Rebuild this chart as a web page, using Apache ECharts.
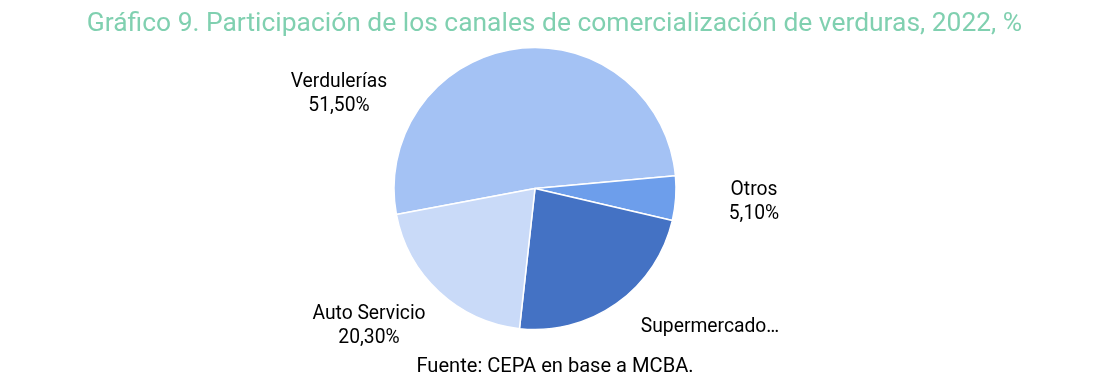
<!DOCTYPE html>
<html>
<head>
<meta charset="utf-8">
<script src="https://cdn.jsdelivr.net/npm/echarts@6/dist/echarts.min.js"></script>
<style>
html,body{margin:0;padding:0;background:#fff;}
#chart{width:1115px;height:382px;}
</style>
</head>
<body>
<div id="chart"></div>
<script>
var categories = ['Verdulerías', 'Otros', 'Supermercados', 'Auto Servicio'];
var values = [51.5, 5.1, 23.1, 20.3];
var labelTexts = ['Verdulerías\n51,50%', 'Otros\n5,10%', 'Supermercado…', 'Auto Servicio\n20,30%'];
var colors = ['#a4c2f4', '#6d9eeb', '#4472c4', '#c9daf8'];

// label anchor offsets from pie centre (px), Excel-like placement
var labelOffsets = [[-196, -94], [219, 13.5], [175, 139], [-166, 137.5]];

var chart = echarts.init(document.getElementById('chart'), null, {renderer: 'canvas'});
var cx = 535, cy = 188.5;
chart.setOption({
  animation: false,
  title: [{
    text: 'Gráfico 9. Participación de los canales de comercialización de verduras, 2022, %',
    left: 549.5,
    textAlign: 'center',
    top: 6,
    textStyle: {fontFamily: 'Roboto', fontSize: 26.4, fontWeight: 'normal', color: '#80d0b0'}
  }, {
    text: 'Fuente: CEPA en base a MCBA.',
    left: 550,
    textAlign: 'center',
    top: 352,
    textStyle: {fontFamily: 'Roboto', fontSize: 20.1, fontWeight: 'normal', color: '#000'}
  }],
  series: [{
    type: 'pie',
    center: [cx, cy],
    radius: [0, 141],
    startAngle: 190.6,
    clockwise: true,
    data: categories.map(function (c, i) {
      return {name: c, value: values[i], itemStyle: {color: colors[i]}};
    }),
    itemStyle: {borderColor: '#fff', borderWidth: 1.5},
    label: {
      show: true,
      position: 'outside',
      formatter: function (p) { return labelTexts[p.dataIndex]; },
      fontFamily: 'Roboto',
      fontSize: 19.3,
      lineHeight: 24,
      color: '#000',
      align: 'center'
    },
    labelLine: {show: false},
    labelLayout: function (p) {
      var o = labelOffsets[p.dataIndex];
      return {x: cx + o[0], y: cy + o[1], align: 'center', verticalAlign: 'middle', hideOverlap: false};
    },
    emphasis: {disabled: true}
  }]
});
</script>
</body>
</html>
